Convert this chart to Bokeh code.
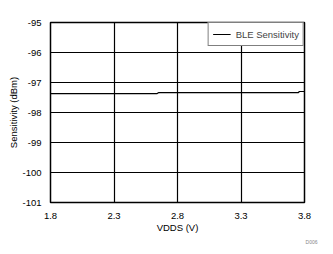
from bokeh.plotting import figure
from bokeh.embed import file_html
from bokeh.resources import INLINE
from bokeh.models import FixedTicker, Title, Legend, LegendItem

vdds = [1.8, 2.64, 2.65, 3.75, 3.76, 3.8]
sensitivity = [-97.37, -97.37, -97.34, -97.34, -97.30, -97.30]
x_ticks = [1.8, 2.3, 2.8, 3.3, 3.8]
y_ticks = [-95, -96, -97, -98, -99, -100, -101]
series_name = "BLE Sensitivity"

FONT = "Liberation Sans"

p = figure(width=333, height=254, output_backend="svg", toolbar_location=None,
           x_range=(1.8, 3.8), y_range=(-101, -95),
           min_border_left=50, min_border_right=29, min_border_top=22, min_border_bottom=52)
p.background_fill_color = "white"
p.border_fill_color = "white"
p.outline_line_color = "black"
p.outline_line_width = 1.5

r = p.line(vdds, sensitivity, line_color="black", line_width=1.2)

for ax in (p.xaxis, p.yaxis):
    ax.axis_line_color = None
    ax.major_tick_line_color = None
    ax.minor_tick_line_color = None
    ax.major_label_text_font = FONT
    ax.major_label_text_font_size = "9.5px"
    ax.major_label_text_color = "black"
    ax.axis_label_text_font = FONT
    ax.axis_label_text_font_size = "9.5px"
    ax.axis_label_text_font_style = "normal"
    ax.axis_label_text_color = "black"

p.xaxis.ticker = FixedTicker(ticks=x_ticks)
p.yaxis.ticker = FixedTicker(ticks=y_ticks)
p.xaxis.major_label_overrides = {t: f"{t:.1f}" for t in x_ticks}
p.yaxis.major_label_overrides = {t: str(t) for t in y_ticks}
p.xaxis.axis_label = "VDDS (V)"
p.yaxis.axis_label = "Sensitivity (dBm)"
p.xaxis.major_label_standoff = 4
p.yaxis.major_label_standoff = 3
p.xaxis.axis_label_standoff = 0
p.yaxis.axis_label_standoff = 0

p.xgrid.ticker = FixedTicker(ticks=x_ticks)
p.ygrid.ticker = FixedTicker(ticks=y_ticks)
p.grid.grid_line_color = "black"
p.grid.grid_line_width = 1.2

legend = Legend(items=[LegendItem(label=series_name, renderers=[r])],
                location="top_right", margin=0, padding=4, spacing=0,
                label_text_font=FONT, label_text_font_size="9.5px",
                label_height=14, glyph_height=14, glyph_width=18,
                label_standoff=5,
                border_line_color="black", border_line_width=1,
                background_fill_alpha=1.0)
p.add_layout(legend)

p.add_layout(Title(text="D006", align="right", offset=-13, standoff=2,
                   text_font=FONT, text_font_size="5px", text_font_style="normal",
                   text_color="#888888"), "below")

open("out.html", "w").write(file_html(p, INLINE))
